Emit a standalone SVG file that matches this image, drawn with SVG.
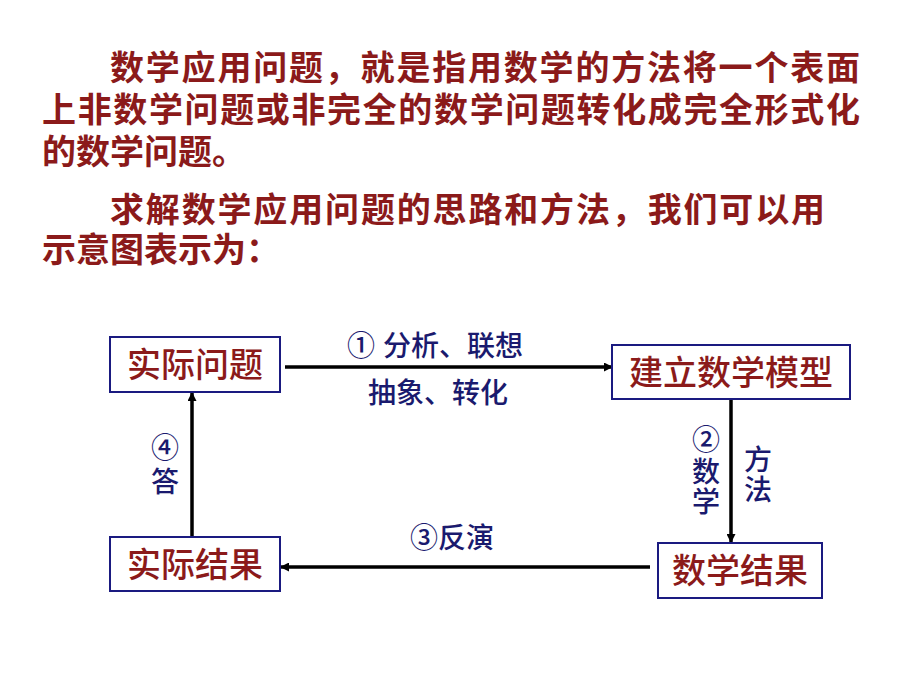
<svg xmlns="http://www.w3.org/2000/svg" width="920" height="690" viewBox="0 0 920 690">
<style>
.p{font-family:"Liberation Sans","Noto Sans CJK SC",sans-serif;font-size:34px;font-weight:bold;fill:#8B1A1A}
.b{fill:#fff;stroke:#1a1a80;stroke-width:2}
.n{font-family:"Liberation Sans","Noto Sans CJK SC",sans-serif;font-size:34px;font-weight:500;fill:#8B1A1A;text-anchor:middle}
.l{font-family:"Liberation Sans","Noto Sans CJK SC",sans-serif;font-size:28px;font-weight:500;fill:#1a1a6e;text-anchor:middle}
.c{stroke:#000;stroke-width:3.5;fill:none;marker-end:url(#a)}
</style>
<defs><marker id="a" markerWidth="9" markerHeight="9" refX="8" refY="4.5" orient="auto" markerUnits="userSpaceOnUse"><path d="M0,0L9,4.5L0,9z" fill="#000"/></marker></defs>
<text class="p" x="110" y="80" textLength="750">数学应用问题，就是指用数学的方法将一个表面</text>
<text class="p" x="42" y="122" textLength="818">上非数学问题或非完全的数学问题转化成完全形式化</text>
<text class="p" x="42" y="164">的数学问题。</text>
<text class="p" x="110" y="222" textLength="715">求解数学应用问题的思路和方法，我们可以用</text>
<text class="p" x="42" y="262">示意图表示为：</text>
<g id="connectors">
<line class="c" x1="285" y1="367" x2="612" y2="367"/>
<line class="c" x1="731" y1="399" x2="731" y2="542"/>
<line class="c" x1="650" y1="567" x2="281" y2="567"/>
<line class="c" x1="192" y1="537" x2="192" y2="393"/>
<text class="l" x="435" y="356">① 分析、联想</text>
<text class="l" x="438" y="403">抽象、转化</text>
<text class="l" x="706" y="450">②</text>
<text class="l" x="706" y="482">数</text>
<text class="l" x="706" y="512">学</text>
<text class="l" x="758" y="470">方</text>
<text class="l" x="758" y="500">法</text>
<text class="l" x="165" y="458">④</text>
<text class="l" x="165" y="492">答</text>
<text class="l" x="452" y="548">③反演</text>
</g>
<g id="n1"><rect class="b" x="110" y="337" width="170" height="55"/><text class="n" x="195" y="377">实际问题</text></g>
<g id="n2"><rect class="b" x="612" y="345" width="238" height="54"/><text class="n" x="731" y="385">建立数学模型</text></g>
<g id="n3"><rect class="b" x="658" y="543" width="164" height="55"/><text class="n" x="740" y="583">数学结果</text></g>
<g id="n4"><rect class="b" x="110" y="537" width="170" height="54"/><text class="n" x="195" y="577">实际结果</text></g>
</svg>
